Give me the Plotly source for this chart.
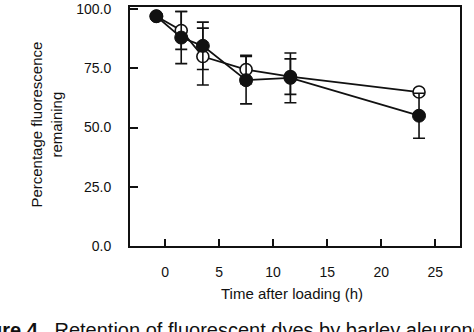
import plotly.graph_objects as go

# Data
time_h = [-0.8, 1.5, 3.5, 7.5, 11.6, 23.5]
open_y = [97.0, 91.0, 80.0, 74.5, 71.5, 65.0]
open_err = [0.0, 8.0, 12.0, 6.0, 7.5, 1.0]
filled_y = [97.0, 88.0, 84.5, 70.0, 71.0, 55.0]
filled_err = [0.0, 11.0, 10.0, 10.0, 10.5, 9.5]

x_ticks = [0, 5, 10, 15, 20, 25]
y_ticks = [0, 25, 50, 75, 100]
y_tick_text = ["0.0", "25.0", "50.0", "75.0", "100.0"]

FONT = "Liberation Sans, Arial, Helvetica, sans-serif"
INK = "#111111"

fig = go.Figure()
fig.add_trace(go.Scatter(
    x=time_h, y=open_y, mode="lines+markers",
    line=dict(color=INK, width=1.8),
    marker=dict(symbol="circle", size=12, color="white",
                line=dict(color=INK, width=1.6)),
    error_y=dict(type="data", array=open_err, visible=True,
                 color=INK, thickness=1.6, width=6),
    showlegend=False,
))
fig.add_trace(go.Scatter(
    x=time_h, y=filled_y, mode="lines+markers",
    line=dict(color=INK, width=1.8),
    marker=dict(symbol="circle", size=13, color=INK,
                line=dict(color=INK, width=1)),
    error_y=dict(type="data", array=filled_err, visible=True,
                 color=INK, thickness=1.6, width=6),
    showlegend=False,
))

fig.update_layout(
    width=474, height=332,
    margin=dict(l=130, r=14, t=1, b=86),
    paper_bgcolor="white", plot_bgcolor="white",
    font=dict(family=FONT, color=INK, size=14),
    xaxis=dict(
        range=[-3.24, 27.29], tickvals=x_ticks,
        ticks="inside", ticklen=7, tickwidth=1.6, tickcolor=INK,
        showline=True, linecolor=INK, linewidth=2, mirror=True,
        showgrid=False, zeroline=False,
        tickfont=dict(size=14, family=FONT, color=INK),
        ticklabelstandoff=12,
    ),
    yaxis=dict(
        range=[0, 100.9], tickvals=y_ticks, ticktext=y_tick_text,
        ticks="inside", ticklen=8, tickwidth=1.6, tickcolor=INK,
        showline=True, linecolor=INK, linewidth=2, mirror=True,
        showgrid=False, zeroline=False,
        tickfont=dict(size=14, family=FONT, color=INK),
        ticklabelstandoff=14, ticklabeloverflow="allow",
    ),
    annotations=[
        dict(text="Percentage fluorescence<br>remaining", textangle=-90,
             xref="paper", yref="paper", x=-0.2515, y=0.508,
             xanchor="center", yanchor="middle", showarrow=False,
             font=dict(size=15, family=FONT, color=INK)),
        dict(text="Time after loading (h)",
             xref="paper", yref="paper", x=0.492, y=-0.199,
             xanchor="center", yanchor="middle", showarrow=False,
             font=dict(size=15, family=FONT, color=INK)),
        dict(text="<b>Figure 4.</b>  Retention of fluorescent dyes by barley aleurone layers",
             xref="paper", yref="paper", x=-0.521, y=-0.297,
             xanchor="left", yanchor="top", showarrow=False,
             font=dict(size=20, family=FONT, color=INK)),
    ],
)

fig.write_html("out.html")
